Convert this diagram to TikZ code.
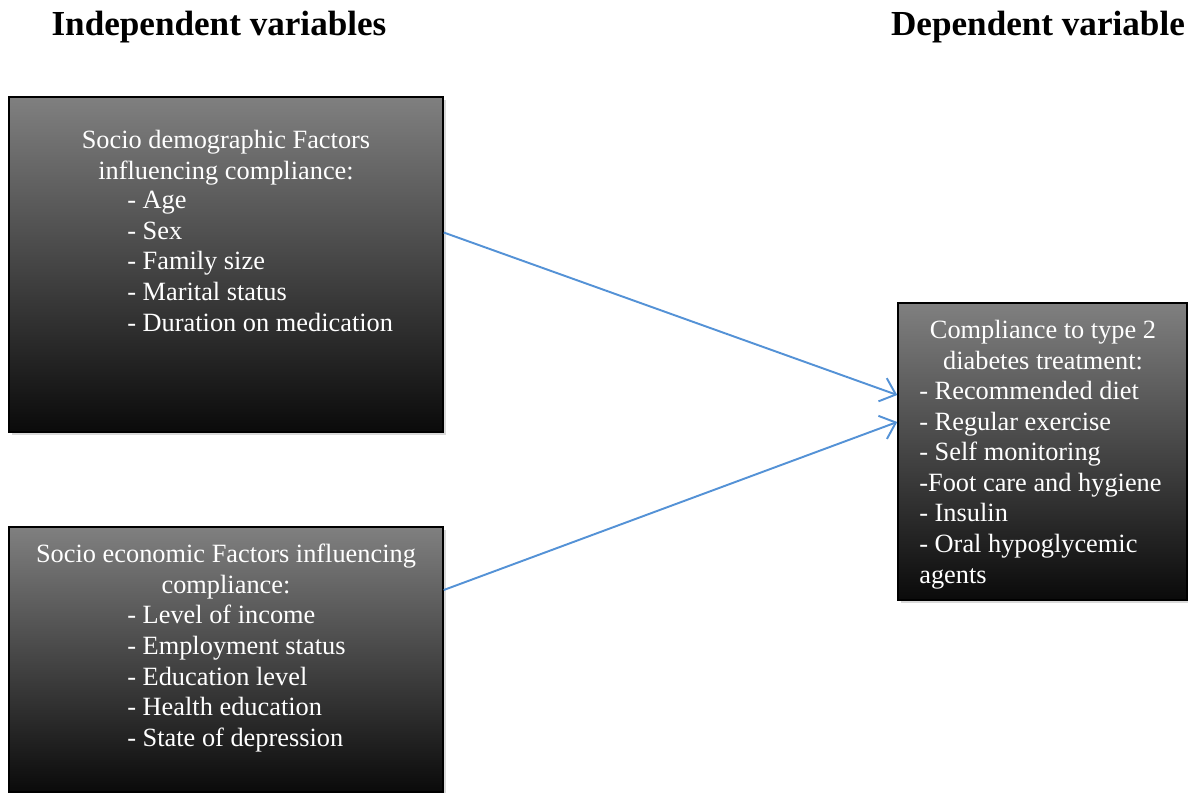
\documentclass[tikz,border=0pt]{standalone}
\usepackage{fontspec}
\setmainfont{Liberation Serif}
\usetikzlibrary{arrows.meta,shadows,positioning}

\definecolor{arrowblue}{RGB}{84,146,214}

\tikzset{
  factorbox/.style={draw=black, line width=0.9pt, top color=black!50, bottom color=black!96,
    drop shadow={shadow xshift=1.5pt, shadow yshift=-1.5pt, opacity=0.25, fill=black!60},
    inner sep=0pt, minimum width=8.68cm},
  boxtext/.style={text=white, font=\fontsize{15}{17.4}\selectfont, inner sep=0pt},
  header/.style={font=\fontsize{20}{23}\selectfont\bfseries, inner sep=0pt},
  arrow/.style={draw=arrowblue, line width=1.1pt, -{Straight Barb[length=8pt,width=14pt,line width=1.1pt]}}
}

\begin{document}
\begin{tikzpicture}[x=0.02cm, y=-0.02cm]
  \useasboundingbox (0,0) rectangle (1188,793);

  % headers
  \node[header] (indep) at (219,27) {Independent variables};
  \node[header] (dep) at (1038,27) {Dependent variable};

  % boxes
  \node[factorbox, minimum height=6.7cm] (demo) at (226,264.5) {};
  \node[factorbox, minimum height=5.3cm] (econ) at (226,659.5) {};
  \node[factorbox, minimum width=5.78cm, minimum height=5.94cm] (comp) at (1042.5,451.5) {};

  % socio demographic
  \node[boxtext, align=center, anchor=north] (demotitle) at (226,130) {Socio demographic Factors\\influencing compliance:};
  \node[boxtext, align=left, anchor=north west] (demolist) at (127,191) {- Age\\- Sex\\- Family size\\- Marital status\\- Duration on medication};

  % socio economic
  \node[boxtext, align=center, anchor=north] (econtitle) at (226,544) {Socio economic Factors influencing\\compliance:};
  \node[boxtext, align=left, anchor=north west] (econlist) at (127,605) {- Level of income\\- Employment status\\- Education level\\- Health education\\- State of depression};

  % compliance
  \node[boxtext, align=center, anchor=north] (comptitle) at (1043,320) {Compliance to type 2\\diabetes treatment:};
  \node[boxtext, align=left, anchor=north west] (complist) at (919,381) {- Recommended diet\\- Regular exercise\\- Self monitoring\\-Foot care and hygiene\\- Insulin\\- Oral hypoglycemic\\agents};

  % connectors
  \draw[arrow] ([yshift=0.64cm]demo.east) -- ([yshift=1.13cm]comp.west);
  \draw[arrow] ([yshift=1.39cm]econ.east) -- ([yshift=0.59cm]comp.west);
\end{tikzpicture}
\end{document}
